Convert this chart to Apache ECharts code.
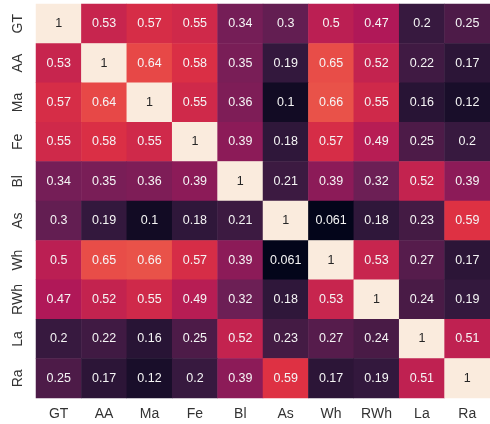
<!DOCTYPE html>
<html>
<head>
<meta charset="utf-8">
<script src="https://cdn.jsdelivr.net/npm/echarts@6/dist/echarts.min.js"></script>
<style>
  html, body { margin: 0; padding: 0; background: #fff; }
  #chart { width: 490px; height: 424px; }
</style>
</head>
<body>
<div id="chart"></div>
<script>
var labels = ["GT", "AA", "Ma", "Fe", "Bl", "As", "Wh", "RWh", "La", "Ra"];
var corr = [
  [1, 0.53, 0.57, 0.55, 0.34, 0.3, 0.5, 0.47, 0.2, 0.25],
  [0.53, 1, 0.64, 0.58, 0.35, 0.19, 0.65, 0.52, 0.22, 0.17],
  [0.57, 0.64, 1, 0.55, 0.36, 0.1, 0.66, 0.55, 0.16, 0.12],
  [0.55, 0.58, 0.55, 1, 0.39, 0.18, 0.57, 0.49, 0.25, 0.2],
  [0.34, 0.35, 0.36, 0.39, 1, 0.21, 0.39, 0.32, 0.52, 0.39],
  [0.3, 0.19, 0.1, 0.18, 0.21, 1, 0.061, 0.18, 0.23, 0.59],
  [0.5, 0.65, 0.66, 0.57, 0.39, 0.061, 1, 0.53, 0.27, 0.17],
  [0.47, 0.52, 0.55, 0.49, 0.32, 0.18, 0.53, 1, 0.24, 0.19],
  [0.2, 0.22, 0.16, 0.25, 0.52, 0.23, 0.27, 0.24, 1, 0.51],
  [0.25, 0.17, 0.12, 0.2, 0.39, 0.59, 0.17, 0.19, 0.51, 1]
];
// seaborn "rocket" sampled evenly
var rocket = ["#03051a", "#35193e", "#701f57", "#ad1759", "#e13342", "#f37651", "#f6b48f", "#faebdd"];

var data = [];
for (var i = 0; i < corr.length; i++) {
  for (var j = 0; j < corr[i].length; j++) {
    // dark text on the light diagonal cells
    data.push({
      value: [j, i, corr[i][j]],
      label: { color: corr[i][j] > 0.9 ? "#262626" : "#f5f5f5" }
    });
  }
}

var chart = echarts.init(document.getElementById("chart"));
chart.setOption({
  animation: false,
  textStyle: { fontFamily: "Liberation Sans, Arial, sans-serif" },
  grid: { left: 36, top: 4, width: 464, height: 394 },
  xAxis: {
    type: "category",
    data: labels,
    axisLine: { show: false },
    axisTick: { show: false },
    splitLine: { show: false },
    axisLabel: { color: "#333", fontSize: 14, margin: 9, interval: 0 }
  },
  yAxis: {
    type: "category",
    data: labels,
    inverse: true,
    axisLine: { show: false },
    axisTick: { show: false },
    splitLine: { show: false },
    axisLabel: { color: "#333", fontSize: 14, rotate: 90, margin: 11, interval: 0 }
  },
  visualMap: {
    show: false,
    min: 0.061,
    max: 1,
    dimension: 2,
    inRange: { color: rocket }
  },
  series: [{
    type: "heatmap",
    data: data,
    itemStyle: { borderWidth: 0 },
    label: {
      show: true,
      fontSize: 12.5,
      formatter: function (p) { return String(p.value[2]); }
    }
  }]
});
</script>
</body>
</html>
